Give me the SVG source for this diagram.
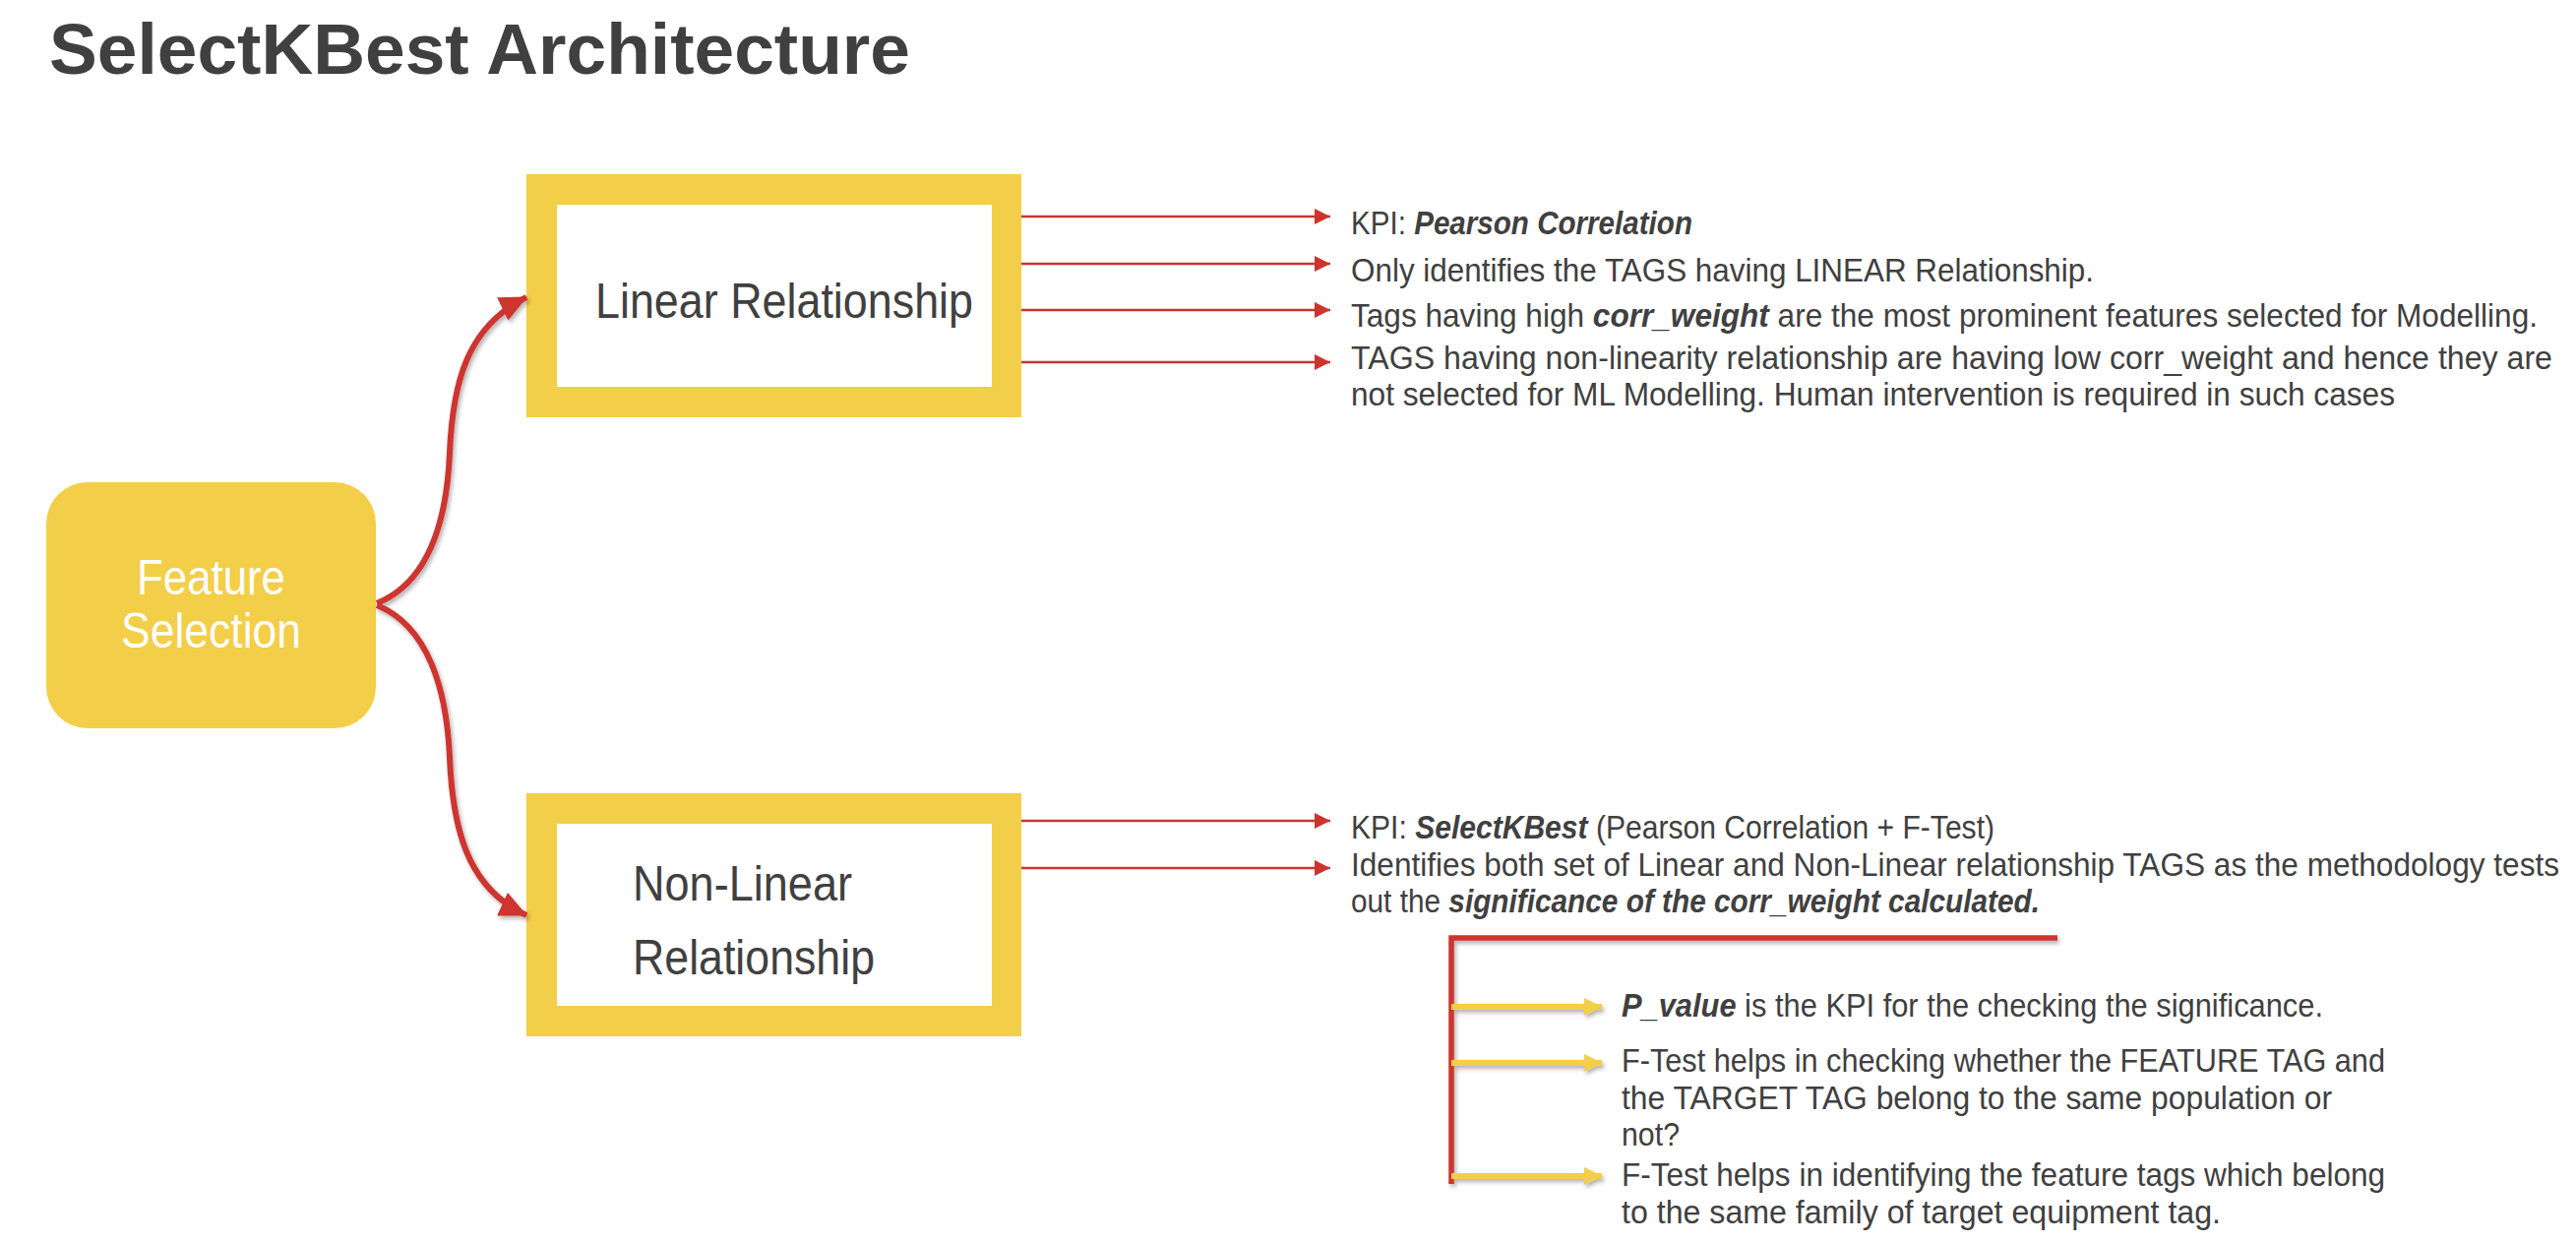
<svg xmlns="http://www.w3.org/2000/svg" width="2618" height="1264" viewBox="0 0 2618 1264">
  <style>
    .t { font-family: "Liberation Sans", Arial, sans-serif; fill: #404040; }
    .title { font-size: 72px; font-weight: bold; }
    .box { font-size: 50px; }
    .wt { fill: #ffffff; }
    .d { font-size: 33px; }
    .p { font-size: 34px; }
    .bi { font-weight: bold; font-style: italic; }
    .yellow { fill: #F3CE48; }
    .red-thin { stroke: #CD342E; stroke-width: 2.5; fill: none; }
    .red-curve { stroke: #CD342E; stroke-width: 6; fill: none; }
    .y-arrow { stroke: #F3CE48; stroke-width: 6; fill: none; }
  </style>
  <defs>
    <filter id="sh" x="-20%" y="-20%" width="140%" height="140%">
      <feDropShadow dx="2" dy="3" stdDeviation="2.2" flood-color="#000000" flood-opacity="0.3"/>
    </filter>
    <marker id="redHeadBig" markerUnits="userSpaceOnUse" viewBox="0 0 28 26" refX="27" refY="13" markerWidth="28" markerHeight="26" orient="auto">
      <path d="M0,0 L28,13 L0,26 Z" fill="#CD342E"/>
    </marker>
    <marker id="redHeadSmall" markerUnits="userSpaceOnUse" viewBox="0 0 16 16" refX="16" refY="8" markerWidth="16" markerHeight="16" orient="auto">
      <path d="M0,0 L16,8 L0,16 Z" fill="#CD342E"/>
    </marker>
    <marker id="yHead" markerUnits="userSpaceOnUse" viewBox="0 0 18 18" refX="18" refY="9" markerWidth="18" markerHeight="18" orient="auto">
      <path d="M0,0 L18,9 L0,18 Z" fill="#F3CE48"/>
    </marker>
  </defs>

  <rect x="0" y="0" width="2618" height="1264" fill="#ffffff"/>

  <g id="title">
    <text class="t title" x="50" y="75" textLength="875" lengthAdjust="spacingAndGlyphs">SelectKBest Architecture</text>
  </g>

  <g id="node-feature-selection">
    <rect class="yellow" x="47" y="490" width="335" height="250" rx="42" ry="42"/>
    <text class="t box wt" x="214.5" y="604" text-anchor="middle" textLength="151" lengthAdjust="spacingAndGlyphs">Feature</text>
    <text class="t box wt" x="214.5" y="658" text-anchor="middle" textLength="183" lengthAdjust="spacingAndGlyphs">Selection</text>
  </g>

  <g id="node-linear">
    <rect class="yellow" x="535" y="177" width="503" height="247"/>
    <rect x="566" y="208" width="442" height="185" fill="#ffffff"/>
    <text class="t box" x="605" y="323" textLength="384" lengthAdjust="spacingAndGlyphs">Linear Relationship</text>
  </g>

  <g id="node-nonlinear">
    <rect class="yellow" x="535" y="806" width="503" height="247"/>
    <rect x="566" y="837" width="442" height="185" fill="#ffffff"/>
    <text class="t box" x="643" y="915" textLength="223" lengthAdjust="spacingAndGlyphs">Non-Linear</text>
    <text class="t box" x="643" y="990" textLength="246" lengthAdjust="spacingAndGlyphs">Relationship</text>
  </g>

  <g id="connectors">
    <g filter="url(#sh)">
      <path class="red-curve" d="M383,613 C435,592 454,530 457,460 C460,390 474,332 535,302" marker-end="url(#redHeadBig)"/>
      <path class="red-curve" d="M383,615 C435,636 454,700 457,770 C460,840 474,902 535,930" marker-end="url(#redHeadBig)"/>
    </g>
    <line class="red-thin" x1="1038" y1="220" x2="1352" y2="220" marker-end="url(#redHeadSmall)"/>
    <line class="red-thin" x1="1038" y1="268" x2="1352" y2="268" marker-end="url(#redHeadSmall)"/>
    <line class="red-thin" x1="1038" y1="315" x2="1352" y2="315" marker-end="url(#redHeadSmall)"/>
    <line class="red-thin" x1="1038" y1="368" x2="1352" y2="368" marker-end="url(#redHeadSmall)"/>
    <line class="red-thin" x1="1038" y1="834" x2="1352" y2="834" marker-end="url(#redHeadSmall)"/>
    <line class="red-thin" x1="1038" y1="882" x2="1352" y2="882" marker-end="url(#redHeadSmall)"/>
    <g filter="url(#sh)">
      <path d="M1475,1203 V953 H2091" stroke="#CD342E" stroke-width="5.5" fill="none"/>
      <line class="y-arrow" x1="1475" y1="1023" x2="1628" y2="1023" marker-end="url(#yHead)"/>
      <line class="y-arrow" x1="1475" y1="1080" x2="1628" y2="1080" marker-end="url(#yHead)"/>
      <line class="y-arrow" x1="1475" y1="1195" x2="1628" y2="1195" marker-end="url(#yHead)"/>
    </g>
  </g>

  <g id="linear-notes">
    <text class="t d" x="1373" y="238" textLength="347" lengthAdjust="spacingAndGlyphs">KPI: <tspan class="bi">Pearson Correlation</tspan></text>
    <text class="t d" x="1373" y="286" textLength="755" lengthAdjust="spacingAndGlyphs">Only identifies the TAGS having LINEAR Relationship.</text>
    <text class="t d" x="1373" y="332" textLength="1206" lengthAdjust="spacingAndGlyphs">Tags having high <tspan class="bi">corr_weight</tspan> are the most prominent features selected for Modelling.</text>
    <text class="t d" x="1373" y="375" textLength="1221" lengthAdjust="spacingAndGlyphs">TAGS having non-linearity relationship are having low corr_weight and hence they are</text>
    <text class="t d" x="1373" y="412" textLength="1061" lengthAdjust="spacingAndGlyphs">not selected for ML Modelling. Human intervention is required in such cases</text>
  </g>

  <g id="nonlinear-notes">
    <text class="t d" x="1373" y="852" textLength="654" lengthAdjust="spacingAndGlyphs">KPI: <tspan class="bi">SelectKBest</tspan> (Pearson Correlation + F-Test)</text>
    <text class="t d" x="1373" y="890" textLength="1228" lengthAdjust="spacingAndGlyphs">Identifies both set of Linear and Non-Linear relationship TAGS as the methodology tests</text>
    <text class="t d" x="1373" y="927" textLength="700" lengthAdjust="spacingAndGlyphs">out the <tspan class="bi">significance of the corr_weight calculated.</tspan></text>
  </g>

  <g id="ftest-notes">
    <text class="t p" x="1648" y="1033" textLength="713" lengthAdjust="spacingAndGlyphs"><tspan class="bi">P_value</tspan> is the KPI for the checking the significance.</text>
    <text class="t p" x="1648" y="1089" textLength="776" lengthAdjust="spacingAndGlyphs">F-Test helps in checking whether the FEATURE TAG and</text>
    <text class="t p" x="1648" y="1127" textLength="722" lengthAdjust="spacingAndGlyphs">the TARGET TAG belong to the same population or</text>
    <text class="t p" x="1648" y="1164" textLength="59" lengthAdjust="spacingAndGlyphs">not?</text>
    <text class="t p" x="1648" y="1205" textLength="776" lengthAdjust="spacingAndGlyphs">F-Test helps in identifying the feature tags which belong</text>
    <text class="t p" x="1648" y="1243" textLength="609" lengthAdjust="spacingAndGlyphs">to the same family of target equipment tag.</text>
  </g>
</svg>
